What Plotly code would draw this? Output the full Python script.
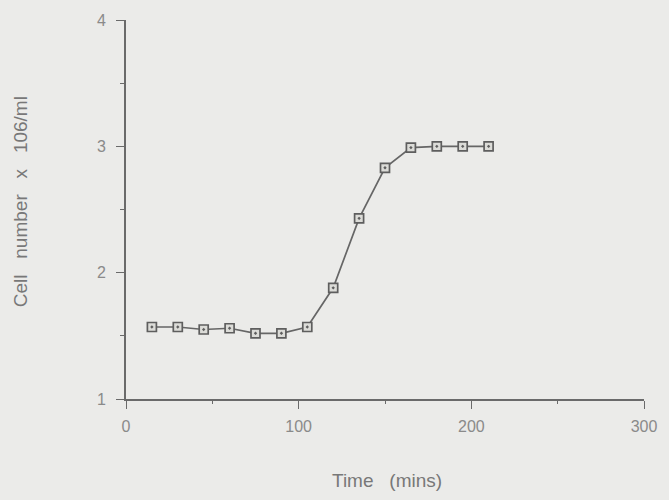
import plotly.graph_objects as go

time_mins = [15, 30, 45, 60, 75, 90, 105, 120, 135, 150, 165, 180, 195, 210]
cell_number = [1.57, 1.57, 1.55, 1.56, 1.52, 1.52, 1.57, 1.88, 2.43, 2.83, 2.99, 3.0, 3.0, 3.0]
x_ticks = [0, 100, 200, 300]
y_ticks = [1, 2, 3, 4]

BG = "#ebebe9"
AX = "#6a6a6a"
TXT = "#8a8a8a"
FONT = "Liberation Sans, Arial, sans-serif"

fig = go.Figure()
fig.add_trace(go.Scatter(
    x=time_mins, y=cell_number, mode="lines+markers",
    line=dict(color="#666666", width=1.7),
    marker=dict(symbol="square-dot", size=9, color="#dcdcd8",
                line=dict(color="#5e5e5e", width=1.7)),
    showlegend=False, cliponaxis=False,
))

axis_common = dict(
    showgrid=False, zeroline=False, showline=True, linecolor=AX, linewidth=1.6,
    ticks="outside", ticklen=8, tickwidth=1.4, tickcolor=AX,
    tickfont=dict(family=FONT, size=16, color=TXT),
)

fig.update_xaxes(range=[0, 300], tickvals=x_ticks, ticktext=[str(v) for v in x_ticks],
                 minor=dict(dtick=50, tick0=0, ticklen=3, tickwidth=1.4, tickcolor=AX, ticks="outside", showgrid=False),
                 ticklabelstandoff=4, **axis_common)
fig.update_yaxes(range=[1, 4], tickvals=y_ticks, ticktext=[str(v) for v in y_ticks],
                 minor=dict(dtick=0.5, tick0=0, ticklen=4, tickwidth=1.4, tickcolor=AX, ticks="outside", showgrid=False),
                 ticklabelstandoff=7, **axis_common)

fig.update_layout(
    width=669, height=500,
    margin=dict(l=126, r=19, t=18, b=101),
    paper_bgcolor=BG, plot_bgcolor=BG,
    font=dict(family=FONT, color=TXT),
    annotations=[
        dict(text="Time&nbsp;&nbsp; (mins)", xref="paper", yref="paper",
             x=0.504, y=-0.215, xanchor="center", yanchor="middle", showarrow=False,
             font=dict(family=FONT, size=19, color="#787878")),
        dict(text="Cell&nbsp;&nbsp; number&nbsp;&nbsp; x&nbsp;&nbsp; 106/ml", xref="paper", yref="paper",
             x=-0.202, y=0.52, xanchor="center", yanchor="middle", showarrow=False, textangle=-90,
             font=dict(family=FONT, size=19, color="#787878")),
    ],
)

fig.write_html("out.html")
